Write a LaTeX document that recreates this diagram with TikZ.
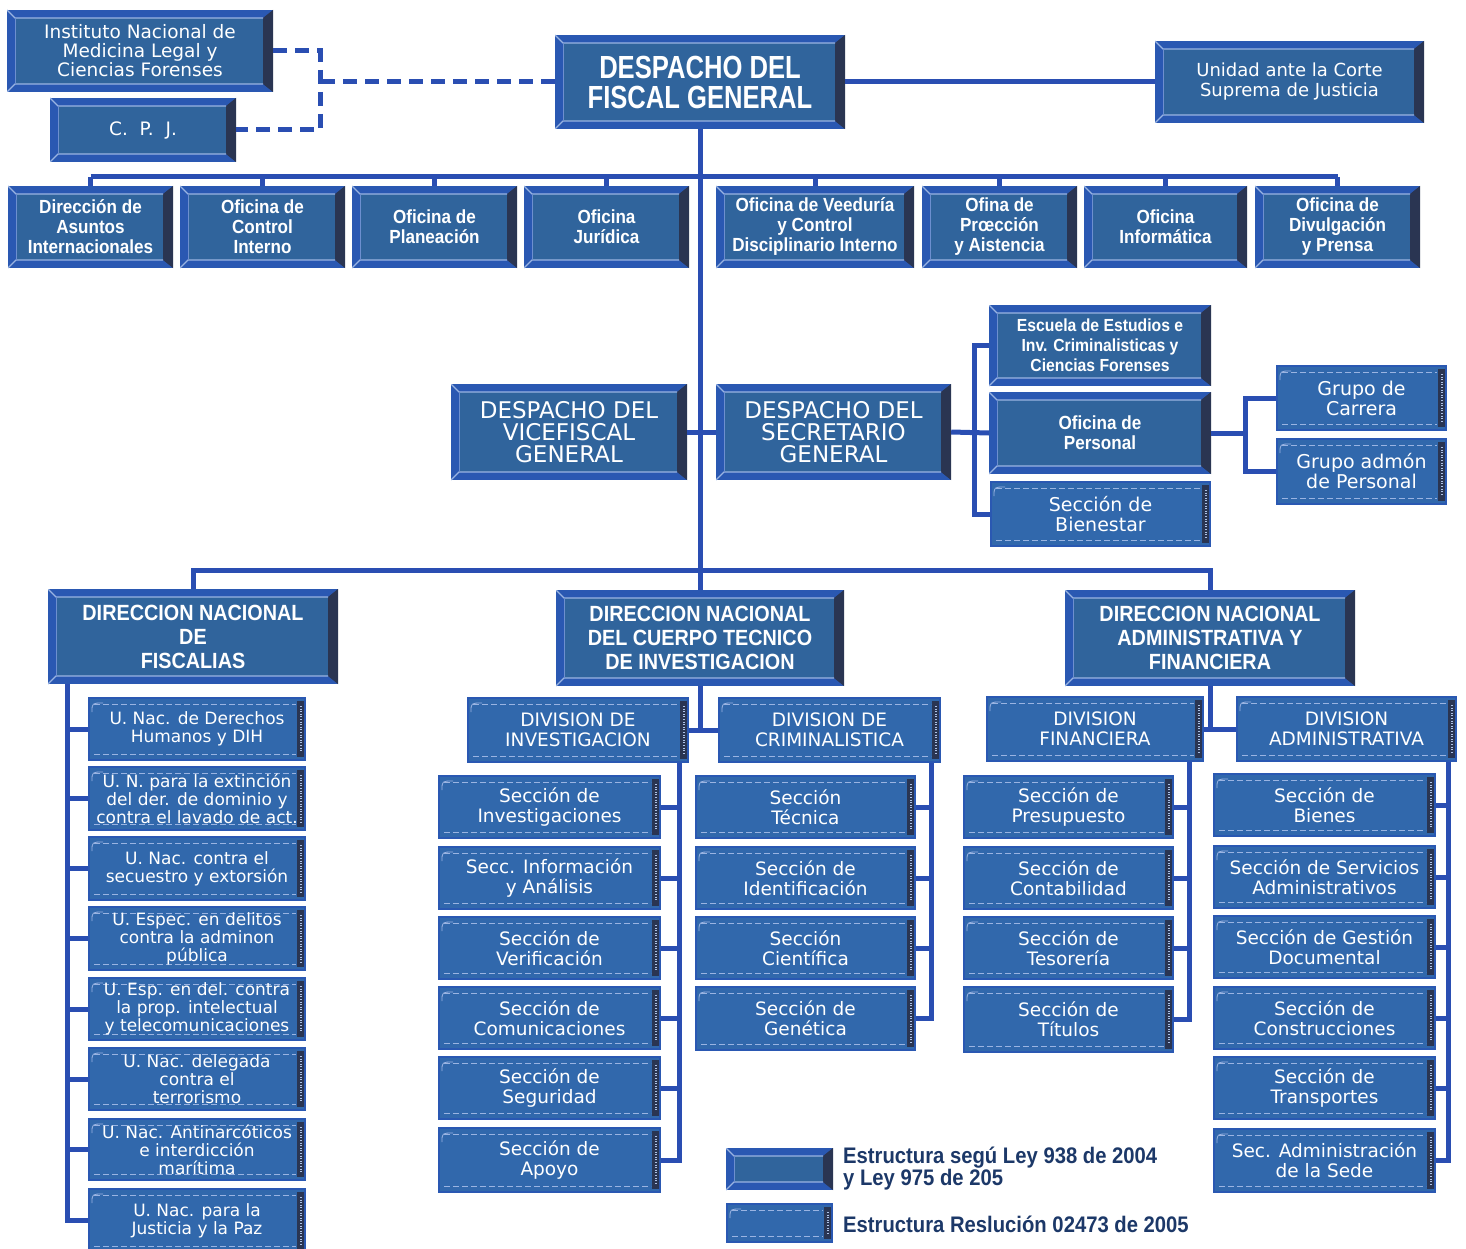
\documentclass[tikz,border=0pt]{standalone}
\usepackage{fontspec}
\setmainfont{DejaVu Sans}
\newfontfamily\narrowfont[FakeStretch=0.9]{Liberation Sans}
\newfontfamily\titlefont[FakeStretch=0.8]{Liberation Sans}
\usetikzlibrary{calc}

\definecolor{facecol}{HTML}{30649C}
\definecolor{framecol}{HTML}{2A58B2}
\definecolor{shadecol}{HTML}{2A3552}
\definecolor{hilite}{HTML}{9AB4E2}
\definecolor{rescol}{HTML}{3168AC}
\definecolor{linecol}{HTML}{2A4EB2}
\definecolor{legendcol}{HTML}{1C3868}

\tikzset{
  % boxes of the structure under Ley 938 / Ley 975 (bevelled frame)
  ley/.style={fill=framecol, text=white, align=center, inner sep=0pt,
    path picture={
      \coordinate (pa) at (path picture bounding box.north west);
      \coordinate (pb) at (path picture bounding box.north east);
      \coordinate (pc) at (path picture bounding box.south east);
      \coordinate (pd) at (path picture bounding box.south west);
      \fill[shadecol] (pb) -- ([xshift=-10pt,yshift=-8pt]pb) -- ([xshift=-10pt,yshift=8pt]pc) -- (pc) -- cycle;
      \fill[facecol] ([xshift=8pt,yshift=-8pt]pa) rectangle ([xshift=-10pt,yshift=8pt]pc);
      \draw[hilite, line width=1.3pt] (pa) -- ([xshift=8pt,yshift=-8pt]pa) -- ([xshift=-10pt,yshift=-8pt]pb);
      \draw[hilite, line width=1.3pt] (pd) -- ([xshift=8pt,yshift=8pt]pd) -- ([xshift=-10pt,yshift=8pt]pc);
      \draw[hilite!60!framecol, line width=0.8pt] ([xshift=8pt,yshift=-8pt]pa) -- ([xshift=8pt,yshift=8pt]pd);
    }},
  % boxes of the structure under Resolucion 02473 (dashed trim)
  res/.style={fill=rescol, draw=framecol, line width=2.5pt, text=white, align=center, inner sep=0pt,
    path picture={
      \coordinate (pa) at (path picture bounding box.north west);
      \coordinate (pb) at (path picture bounding box.north east);
      \coordinate (pc) at (path picture bounding box.south east);
      \coordinate (pd) at (path picture bounding box.south west);
      \fill[shadecol] ([xshift=-8pt,yshift=-3pt]pb) rectangle ([yshift=3pt]pc);
      \draw[hilite, line width=1pt, dash pattern=on 6pt off 3pt] ([xshift=5pt,yshift=-6pt]pa) -- ([xshift=-9pt,yshift=-6pt]pb);
      \draw[hilite, line width=1pt, dash pattern=on 6pt off 3pt] ([xshift=5pt,yshift=6pt]pd) -- ([xshift=-9pt,yshift=6pt]pc);
      \draw[hilite!80, line width=1.2pt, dash pattern=on 1pt off 1.6pt] ([xshift=-4pt,yshift=-8pt]pb) -- ([xshift=-4pt,yshift=8pt]pc);
      \draw[hilite, line width=0.8pt] ([xshift=3pt,yshift=-14pt]pa) .. controls ([xshift=3pt,yshift=-5pt]pa) .. ([xshift=14pt,yshift=-5pt]pa);
    }},
  link/.style={draw=linecol, line width=5pt},
  dlink/.style={draw=linecol, line width=5pt, dash pattern=on 14pt off 8pt},
  vtxt/.style={font=\fontsize{18.5}{19}\selectfont},
  stxt/.style={font=\fontsize{17}{18}\selectfont},
  sectxt/.style={font=\fontsize{18.5}{20}\selectfont},
  ntxt/.style={font=\narrowfont\bfseries\fontsize{19}{20}\selectfont},
  dntxt/.style={font=\narrowfont\bfseries\fontsize{22}{24}\selectfont},
  legtxt/.style={font=\narrowfont\bfseries\fontsize{22.5}{19}\selectfont, text=legendcol, align=left, inner sep=0pt},
}

% box from its corners (x1,y1) (x2,y2), y growing downwards
\newcommand{\orgbox}[7]{%
  \node[#1, minimum width={#5-#3}, minimum height={#6-#4}] (#2) at ({(#3+#5)/2},{(#4+#6)/2}) {#7};}

\begin{document}
\begin{tikzpicture}[x=1pt, y=-1pt]
  \useasboundingbox (0,0) rectangle (1466,1249);

  % Top level
  \orgbox{ley, vtxt}{inml}{7}{10}{273}{92}{Instituto Nacional de\\Medicina Legal y\\Ciencias Forenses}
  \orgbox{ley, vtxt}{cpj}{50}{98}{236}{162}{C.\ \ P.\ \ J.}
  \orgbox{ley, font=\titlefont\bfseries\fontsize{32}{30}\selectfont}{fg}{555}{35}{845}{129}{DESPACHO DEL\\FISCAL GENERAL}
  \orgbox{ley, font=\fontsize{18}{20}\selectfont}{ucsj}{1155}{41}{1424}{123}{Unidad ante la Corte\\Suprema de Justicia}

  % Offices under the Fiscal General
  \orgbox{ley, ntxt}{a1}{8}{186}{173}{268}{Dirección de\\Asuntos\\Internacionales}
  \orgbox{ley, ntxt}{a2}{180}{186}{345}{268}{Oficina de\\Control\\Interno}
  \orgbox{ley, ntxt}{a3}{352}{186}{517}{268}{Oficina de\\Planeación}
  \orgbox{ley, ntxt}{a4}{524}{186}{689}{268}{Oficina\\Jurídica}
  \orgbox{ley, ntxt}{a5}{716}{186}{914}{268}{Oficina de Veeduría\\y Control\\Disciplinario Interno}
  \orgbox{ley, ntxt}{a6}{922}{186}{1077}{268}{Ofina de\\Prœcción\\y Aistencia}
  \orgbox{ley, ntxt}{a7}{1084}{186}{1247}{268}{Oficina\\Informática}
  \orgbox{ley, ntxt}{a8}{1255}{186}{1420}{268}{Oficina de\\Divulgación\\y Prensa}

  % Vicefiscal and Secretario General
  \orgbox{ley, font=\fontsize{23}{22}\selectfont}{vf}{451}{384}{687}{480}{DESPACHO DEL\\VICEFISCAL\\GENERAL}
  \orgbox{ley, font=\fontsize{23}{22}\selectfont}{sg}{716}{384}{951}{480}{DESPACHO DEL\\SECRETARIO\\GENERAL}
  \orgbox{ley, font=\narrowfont\bfseries\fontsize{17.5}{20}\selectfont}{esc}{989}{305}{1211}{386}{Escuela de Estudios e\\Inv. Criminalisticas y\\Ciencias Forenses}
  \orgbox{ley, ntxt}{per}{989}{392}{1211}{474}{Oficina de\\Personal}
  \orgbox{res, font=\fontsize{19}{20}\selectfont}{bien}{991}{482}{1210}{546}{Sección de\\Bienestar}
  \orgbox{res, font=\fontsize{19}{20}\selectfont}{gc}{1277}{366}{1446}{430}{Grupo de\\Carrera}
  \orgbox{res, font=\fontsize{19}{20}\selectfont}{ga}{1277}{439}{1446}{504}{Grupo admón\\de Personal}

  % Direcciones Nacionales
  \orgbox{ley, dntxt}{dnf}{48}{589}{338}{684}{DIRECCION NACIONAL\\DE\\FISCALIAS}
  \orgbox{ley, dntxt}{dnc}{556}{590}{844}{686}{DIRECCION NACIONAL\\DEL CUERPO TECNICO\\DE INVESTIGACION}
  \orgbox{ley, dntxt}{dna}{1065}{590}{1355}{686}{DIRECCION NACIONAL\\ADMINISTRATIVA Y\\FINANCIERA}

  % Unidades de Fiscalias
  \orgbox{res, stxt}{f1}{89}{698}{305}{760}{U. Nac. de Derechos\\Humanos y DIH}
  \orgbox{res, stxt}{f2}{89}{767}{305}{830}{U. N. para la extinción\\del der. de dominio y\\contra el lavado de act.}
  \orgbox{res, stxt}{f3}{89}{837}{305}{900}{U. Nac. contra el\\secuestro y extorsión}
  \orgbox{res, stxt}{f4}{89}{907}{305}{970}{U. Espec. en delitos\\contra la adminon\\pública}
  \orgbox{res, stxt}{f5}{89}{978}{305}{1040}{U. Esp. en del. contra\\la prop. intelectual\\y telecomunicaciones}
  \orgbox{res, stxt}{f6}{89}{1048}{305}{1110}{U. Nac. delegada\\contra el\\terrorismo}
  \orgbox{res, stxt}{f7}{89}{1119}{305}{1180}{U. Nac. Antinarcóticos\\e interdicción\\marítima}
  \orgbox{res, stxt}{f8}{89}{1189}{305}{1252}{U. Nac. para la\\Justicia y la Paz}

  % Cuerpo Tecnico de Investigacion
  \orgbox{res, sectxt}{dvi}{468}{698}{688}{762}{DIVISION DE\\INVESTIGACION}
  \orgbox{res, sectxt}{dvc}{719}{698}{940}{762}{DIVISION DE\\CRIMINALISTICA}
  \orgbox{res, sectxt}{i1}{439}{776}{660}{838}{Sección de\\Investigaciones}
  \orgbox{res, sectxt}{i2}{439}{847}{660}{909}{Secc. Información\\y Análisis}
  \orgbox{res, sectxt}{i3}{439}{917}{660}{979}{Sección de\\Verificación}
  \orgbox{res, sectxt}{i4}{439}{987}{660}{1049}{Sección de\\Comunicaciones}
  \orgbox{res, sectxt}{i5}{439}{1057}{660}{1119}{Sección de\\Seguridad}
  \orgbox{res, sectxt}{i6}{439}{1128}{660}{1192}{Sección de\\Apoyo}
  \orgbox{res, sectxt}{c1}{696}{776}{915}{838}{Sección\\Técnica}
  \orgbox{res, sectxt}{c2}{696}{847}{915}{909}{Sección de\\Identificación}
  \orgbox{res, sectxt}{c3}{696}{917}{915}{979}{Sección\\Científica}
  \orgbox{res, sectxt}{c4}{696}{987}{915}{1050}{Sección de\\Genética}

  % Administrativa y Financiera
  \orgbox{res, sectxt}{dvf}{987}{697}{1203}{761}{DIVISION\\FINANCIERA}
  \orgbox{res, sectxt}{dva}{1237}{697}{1456}{761}{DIVISION\\ADMINISTRATIVA}
  \orgbox{res, sectxt}{p1}{964}{776}{1173}{838}{Sección de\\Presupuesto}
  \orgbox{res, sectxt}{p2}{964}{847}{1173}{909}{Sección de\\Contabilidad}
  \orgbox{res, sectxt}{p3}{964}{917}{1173}{979}{Sección de\\Tesorería}
  \orgbox{res, sectxt}{p4}{964}{987}{1173}{1052}{Sección de\\Títulos}
  \orgbox{res, sectxt}{s1}{1214}{774}{1435}{836}{Sección de\\Bienes}
  \orgbox{res, sectxt}{s2}{1214}{846}{1435}{908}{Sección de Servicios\\Administrativos}
  \orgbox{res, sectxt}{s3}{1214}{916}{1435}{978}{Sección de Gestión\\Documental}
  \orgbox{res, sectxt}{s4}{1214}{987}{1435}{1049}{Sección de\\Construcciones}
  \orgbox{res, sectxt}{s5}{1214}{1057}{1435}{1119}{Sección de\\Transportes}
  \orgbox{res, sectxt}{s6}{1214}{1129}{1435}{1192}{Sec. Administración\\de la Sede}

  % Legend
  \orgbox{ley}{legA}{726}{1148}{833}{1190}{}
  \orgbox{res}{legB}{727}{1204}{832}{1242}{}
  \node[legtxt, anchor=west] (legAt) at (843,1169) {Estructura segú Ley 938 de 2004\\y Ley 975 de 205};
  \node[legtxt, anchor=west] (legBt) at (843,1224) {Estructura Reslución 02473 de 2005};

  % Dashed links to INML and CPJ
  \draw[dlink] (inml.east) -- ++(47,0) |- (cpj.east);
  \draw[dlink] (fg.west) -- ++(-235,0);
  \draw[link] (fg.east) -- (ucsj.west);

  % Trunk and top bus
  \coordinate (lowbus) at (700,570);
  \draw[link] (fg.south) -- (lowbus);
  \draw[link] ([yshift=9pt]a1.north) -- ([yshift=9pt]a8.north);
  \foreach \i in {1,...,8}
    \draw[link] (a\i.north) -- ++(0,-9);

  % Vicefiscal, Secretario and their units
  \draw[link] (vf.east) -- (sg.west);
  \draw[link] (sg.east) -- (per.west);
  \draw[link] (esc.west) -- ++(-14,0) |- (bien.west);
  \draw[link] (per.east) -- ++(36,0);
  \draw[link] (gc.west) -- ++(-30,0) |- (ga.west);

  % Lower bus
  \draw[link] (dnf.north) |- (lowbus) -| (dna.north);
  \draw[link] (lowbus) -- (dnc.north);

  % Fiscalias
  \coordinate (fbus) at ([xshift=20pt]dnf.south west);
  \draw[link] (fbus) |- (f8.west);
  \foreach \i in {1,...,7}
    \draw[link] (f\i.west) -- (f\i.west -| fbus);

  % CTI
  \draw[link] (dnc.south) -- (dnc.south |- dvi.east);
  \draw[link] (dvi.east) -- (dvc.west);
  \coordinate (ibus) at ([xshift=-10pt]dvi.south east);
  \draw[link] (ibus) |- (i6.east);
  \foreach \i in {1,...,5}
    \draw[link] (i\i.east) -- (i\i.east -| ibus);
  \coordinate (cbus) at ([xshift=-10pt]dvc.south east);
  \draw[link] (cbus) |- (c4.east);
  \foreach \i in {1,...,3}
    \draw[link] (c\i.east) -- (c\i.east -| cbus);

  % Administrativa y Financiera
  \draw[link] (dna.south) -- (dna.south |- dvf.east);
  \draw[link] (dvf.east) -- (dva.west);
  \coordinate (pbus) at ([xshift=-15pt]dvf.south east);
  \draw[link] (pbus) |- (p4.east);
  \foreach \i in {1,...,3}
    \draw[link] (p\i.east) -- (p\i.east -| pbus);
  \coordinate (sbus) at ([xshift=-9pt]dva.south east);
  \draw[link] (sbus) |- (s6.east);
  \foreach \i in {1,...,5}
    \draw[link] (s\i.east) -- (s\i.east -| sbus);

\end{tikzpicture}
\end{document}
